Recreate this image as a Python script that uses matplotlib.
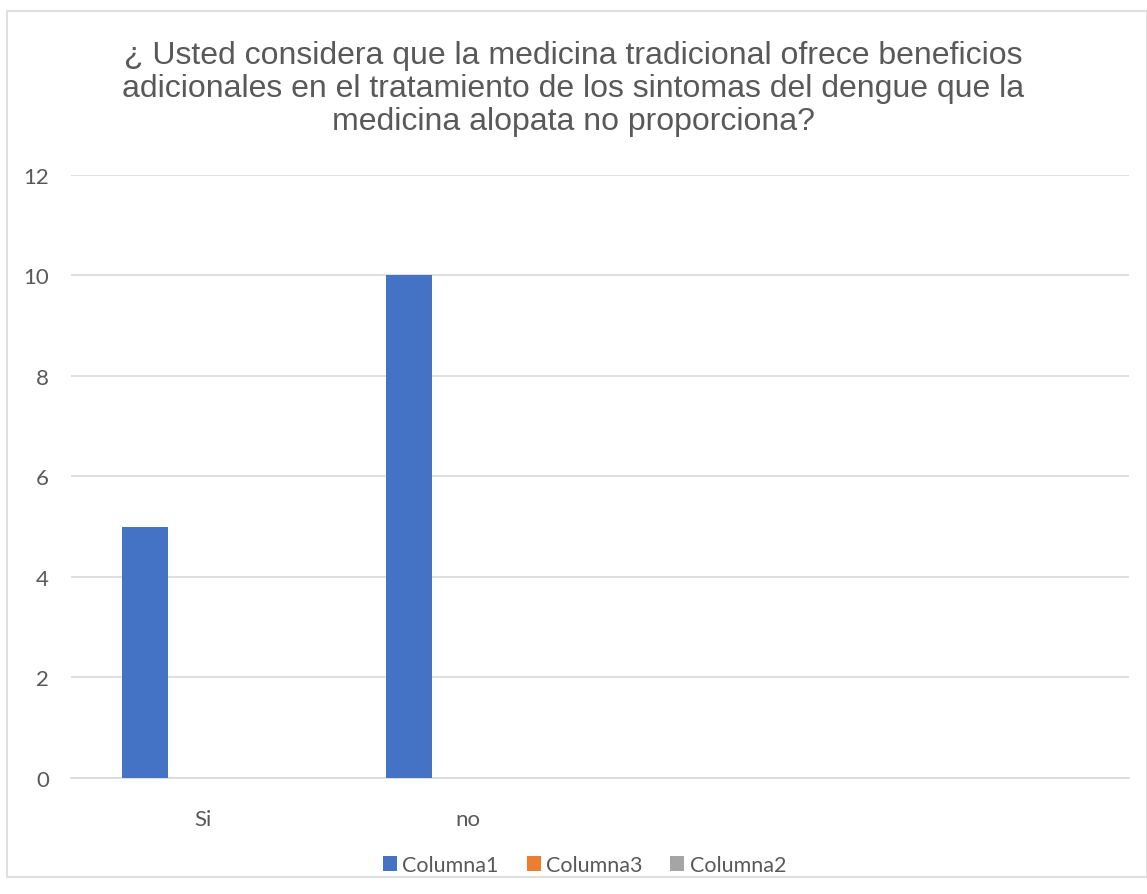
import numpy as np
import matplotlib
matplotlib.use('Agg')
import matplotlib.pyplot as plt
from matplotlib.patches import Rectangle

categories = ['Si', 'no', '', '']
columna1 = [5, 10, np.nan, np.nan]
columna3 = [np.nan, np.nan, np.nan, np.nan]
columna2 = [np.nan, np.nan, np.nan, np.nan]
series_names = ['Columna1', 'Columna3', 'Columna2']
colors = ['#4472C4', '#ED7D31', '#A5A5A5']
title = ('¿ Usted considera que la medicina tradicional ofrece beneficios\n'
         'adicionales en el tratamiento de los sintomas del dengue que la\n'
         'medicina alopata no proporciona?')

plt.rcParams['font.family'] = ['Lato', 'DejaVu Sans']

fig = plt.figure(figsize=(11.47, 8.95), dpi=100)
fig.patches.append(Rectangle((7 / 1147, 1 - 878 / 895), 1 - 7 / 1147, (878 - 12) / 895,
                             transform=fig.transFigure, fill=False,
                             edgecolor='#D9D9D9', linewidth=1.2))

ax = fig.add_axes([71 / 1147, 1 - 779 / 895, (1129 - 71) / 1147, (779 - 175.7) / 895])

x = np.arange(len(categories))
width = 0.1745
step = 0.2217
for i, (vals, name, c) in enumerate(zip([columna1, columna3, columna2], series_names, colors)):
    ax.bar(x + (i - 1) * step, vals, width, color=c, label=name, zorder=3)

ax.set_xlim(-0.5, len(categories) - 0.5)
ax.set_ylim(0, 12)
ax.set_yticks(np.arange(0, 13, 2))
ax.set_xticks(x)
ax.set_xticklabels(categories)
ax.grid(axis='y', color='#D9D9D9', linewidth=1.2, zorder=0)
for s in ['top', 'right', 'left']:
    ax.spines[s].set_visible(False)
ax.spines['bottom'].set_color('#D9D9D9')
ax.spines['bottom'].set_linewidth(1.2)
ax.tick_params(axis='both', length=0, labelsize=16, labelcolor='#595959')
ax.tick_params(axis='x', pad=22)
ax.tick_params(axis='y', pad=16)

fig.text(0.5, 1 - 89 / 895, title, ha='center', va='center', fontsize=23,
         color='#595959', family='Liberation Sans', linespacing=1.12)

fig.legend(loc='center', bbox_to_anchor=(0.5 + 11 / 1147, 1 - 866 / 895), ncol=3, frameon=False,
           fontsize=15.5, labelcolor='#595959', handlelength=0.65, handleheight=0.65,
           handletextpad=0.25, columnspacing=1.3)

plt.savefig('out.png', dpi=100)
